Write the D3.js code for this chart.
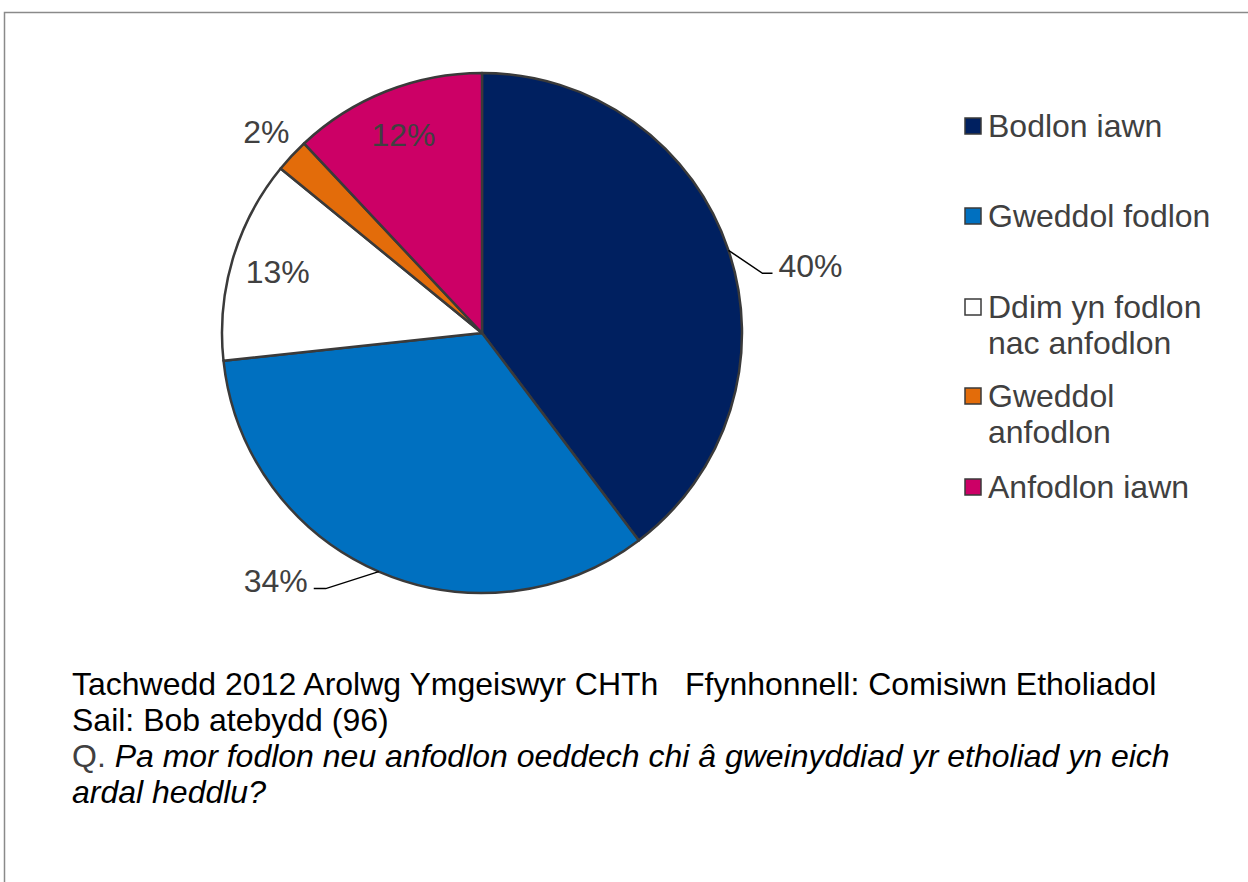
<!DOCTYPE html>
<html>
<head>
<meta charset="utf-8">
<script src="https://cdn.jsdelivr.net/npm/d3@7"></script>
<style>
  html, body { margin: 0; padding: 0; background: #fff; }
  svg { display: block; }
  text { font-family: "Liberation Sans", Arial, sans-serif; }
</style>
</head>
<body>
<svg id="chart" width="1248" height="882"></svg>
<script>
// ---- data ----
const categories = ["Bodlon iawn", "Gweddol fodlon", "Ddim yn fodlon nac anfodlon", "Gweddol anfodlon", "Anfodlon iawn"];
const values = [39.7, 33.6, 12.6, 2.1, 12.0];
const labels = ["40%", "34%", "13%", "2%", "12%"];
const legendLines = [["Bodlon iawn"], ["Gweddol fodlon"], ["Ddim yn fodlon", "nac anfodlon"], ["Gweddol", "anfodlon"], ["Anfodlon iawn"]];
const colors = ["#002060", "#0070C0", "#FFFFFF", "#E36C0A", "#CC0066"];
const footerLines = [
  "Tachwedd 2012 Arolwg Ymgeiswyr CHTh   Ffynhonnell: Comisiwn Etholiadol",
  "Sail: Bob atebydd (96)"
];
const questionPrefix = "Q.";
const questionLines = [" Pa mor fodlon neu anfodlon oeddech chi â gweinyddiad yr etholiad yn eich", "ardal heddlu?"];

// ---- layout ----
const svg = d3.select("#chart");
const W = 1248, H = 882;
const cx = 482, cy = 333, R = 260;
const textColor = "#404040";

// frame
svg.append("path")
  .attr("d", `M4.5,${H} L4.5,12.5 L${W},12.5`)
  .attr("fill", "none").attr("stroke", "#8a8a8a").attr("stroke-width", 1.5);

const pie = d3.pie().sort(null).value(d => d)(values);
const arc = d3.arc().innerRadius(0).outerRadius(R);
const g = svg.append("g").attr("transform", `translate(${cx},${cy})`);

g.selectAll("path.slice").data(pie).join("path")
  .attr("class", "slice")
  .attr("d", arc)
  .attr("fill", (d, i) => colors[i])
  .attr("stroke", "#3a3a3a").attr("stroke-width", 2.5).attr("stroke-linejoin", "round");

function pt(a, r) { return [Math.sin(a) * r, -Math.cos(a) * r]; }
const fs = 32;

const labelMode = ["leaderR", "leaderL", "inside", "outside", "inside"];
pie.forEach((d, i) => {
  const mid = (d.startAngle + d.endAngle) / 2;
  const mode = labelMode[i];
  if (mode === "inside") {
    const [x, y] = pt(mid, 0.82 * R);
    g.append("text").attr("x", x).attr("y", y).attr("dy", "0.35em")
      .attr("text-anchor", "middle").attr("font-size", fs).attr("fill", textColor).text(labels[i]);
  } else if (mode === "outside") {
    const [x, y] = pt(mid, 1.135 * R);
    g.append("text").attr("x", x).attr("y", y).attr("dy", "0.35em")
      .attr("text-anchor", "middle").attr("font-size", fs).attr("fill", textColor).text(labels[i]);
  } else {
    const p0 = pt(mid, R);
    const right = mode === "leaderR";
    const p1 = right ? [p0[0] + 34, p0[1] + 23] : [p0[0] - 53, p0[1] + 17];
    const p2 = right ? [p1[0] + 10, p1[1]] : [p1[0] - 12, p1[1]];
    g.append("path").attr("d", d3.line()([p0, p1, p2]))
      .attr("fill", "none").attr("stroke", "#000").attr("stroke-width", 1.5);
    g.append("text").attr("x", p2[0] + (right ? 6 : -6)).attr("y", p1[1] - 8).attr("dy", "0.35em")
      .attr("text-anchor", right ? "start" : "end")
      .attr("font-size", fs).attr("fill", textColor).text(labels[i]);
  }
});

// legend
const legendY = [137, 227, 318, 407, 498];
const lg = svg.append("g");
legendLines.forEach((lines, i) => {
  lg.append("rect").attr("x", 965).attr("y", legendY[i] - 19).attr("width", 16).attr("height", 16)
    .attr("fill", colors[i]).attr("stroke", "#3a3a3a").attr("stroke-width", 1.5);
  lines.forEach((t, j) => {
    lg.append("text").attr("x", 988).attr("y", legendY[i] + j * 36)
      .attr("font-size", fs).attr("fill", textColor).text(t);
  });
});

// footer
const fg = svg.append("g");
const footY = [695, 731];
footerLines.forEach((t, i) => {
  fg.append("text").attr("x", 72).attr("y", footY[i]).attr("font-size", fs)
    .attr("fill", "#000").style("white-space", "pre").attr("xml:space", "preserve").text(t);
});
const qY = [767, 803];
questionLines.forEach((t, i) => {
  const tx = fg.append("text").attr("x", 72).attr("y", qY[i]).attr("font-size", fs)
    .attr("fill", "#000").style("white-space", "pre").attr("xml:space", "preserve");
  if (i === 0) tx.append("tspan").attr("fill", textColor).text(questionPrefix);
  tx.append("tspan").attr("font-style", "italic").text(t);
});
</script>
</body>
</html>
